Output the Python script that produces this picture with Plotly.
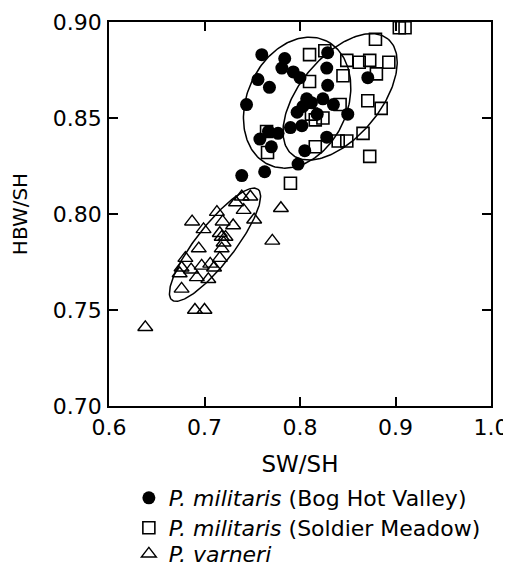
import numpy as np
import plotly.graph_objects as go

# --- data ---
bhv_x = [0.760, 0.784, 0.781, 0.793, 0.800, 0.756, 0.768, 0.744, 0.829, 0.828,
         0.829, 0.871, 0.807, 0.824, 0.803, 0.797, 0.835, 0.850, 0.790, 0.802,
         0.777, 0.767, 0.758, 0.770, 0.828, 0.805, 0.798, 0.763, 0.739, 0.812,
         0.818]
bhv_y = [0.883, 0.881, 0.876, 0.874, 0.871, 0.870, 0.866, 0.857, 0.884, 0.876,
         0.867, 0.871, 0.860, 0.860, 0.856, 0.853, 0.857, 0.852, 0.845, 0.846,
         0.842, 0.843, 0.839, 0.835, 0.840, 0.833, 0.826, 0.822, 0.820, 0.858,
         0.852]

sm_x = [0.910, 0.904, 0.879, 0.826, 0.810, 0.849, 0.862, 0.873, 0.893, 0.845,
        0.880, 0.810, 0.871, 0.885, 0.842, 0.812, 0.824, 0.840, 0.849, 0.866,
        0.873, 0.816, 0.790, 0.765, 0.766, 0.816]
sm_y = [0.897, 0.897, 0.891, 0.885, 0.883, 0.880, 0.879, 0.880, 0.879, 0.872,
        0.873, 0.869, 0.859, 0.855, 0.857, 0.852, 0.850, 0.838, 0.838, 0.842,
        0.830, 0.835, 0.816, 0.843, 0.832, 0.849]

pv_x = [0.739, 0.748, 0.733, 0.741, 0.713, 0.780, 0.687, 0.719, 0.730, 0.752,
        0.699, 0.718, 0.720, 0.716, 0.771, 0.694, 0.718, 0.680, 0.716, 0.676,
        0.686, 0.697, 0.710, 0.692, 0.704, 0.674, 0.676, 0.690, 0.700, 0.638,
        0.722, 0.706]
pv_y = [0.809, 0.809, 0.806, 0.802, 0.801, 0.803, 0.796, 0.796, 0.794, 0.797,
        0.792, 0.788, 0.785, 0.790, 0.786, 0.782, 0.782, 0.777, 0.777, 0.772,
        0.771, 0.773, 0.772, 0.767, 0.766, 0.769, 0.761, 0.750, 0.750, 0.741,
        0.788, 0.774]

names = ["<i>P. militaris</i> (Bog Hot Valley)",
         "<i>P. militaris</i> (Soldier Meadow)",
         "<i>P. varneri</i>"]

# ellipses: centre (x, y), semi-axes in fractions of the axis spans, angle (deg, on screen)
ell_cx = [0.797, 0.842, 0.711]
ell_cy = [0.858, 0.861, 0.784]
ell_a = [0.178, 0.196, 0.183]
ell_b = [0.131, 0.105, 0.050]
ell_ang = [65, 50, 52]

XR = [0.6, 1.0]
YR = [0.70, 0.90]

fig = go.Figure()

t = np.linspace(0, 2 * np.pi, 200)
for cx, cy, a, b, ang in zip(ell_cx, ell_cy, ell_a, ell_b, ell_ang):
    th = np.deg2rad(ang)
    u = a * np.cos(t) * np.cos(th) - b * np.sin(t) * np.sin(th)
    v = a * np.cos(t) * np.sin(th) + b * np.sin(t) * np.cos(th)
    fig.add_trace(go.Scatter(
        x=cx + u * (XR[1] - XR[0]), y=cy + v * (YR[1] - YR[0]),
        mode="lines", line=dict(color="black", width=1.5),
        showlegend=False, hoverinfo="skip"))

fig.add_trace(go.Scatter(
    x=bhv_x, y=bhv_y, mode="markers", name=names[0], cliponaxis=False,
    legend="legend",
    marker=dict(symbol="circle", size=13, color="black")))
fig.add_trace(go.Scatter(
    x=sm_x, y=sm_y, mode="markers", name=names[1], cliponaxis=False,
    legend="legend2",
    marker=dict(symbol="square-open", size=12, color="black",
                line=dict(width=1.6, color="black"))))
fig.add_trace(go.Scatter(
    x=pv_x, y=pv_y, mode="markers", name=names[2], cliponaxis=False,
    legend="legend3",
    marker=dict(symbol="triangle-up-open", size=13, color="black",
                line=dict(width=1.4, color="black"))))

axis_common = dict(
    showline=True, linecolor="black", linewidth=1.5, mirror="ticks",
    ticks="inside", ticklen=9, tickwidth=1.5, tickcolor="black",
    showgrid=False, zeroline=False,
    tickfont=dict(family="DejaVu Sans", size=22, color="black"),
)

leg_font = dict(family="DejaVu Sans", size=22, color="black")
leg_common = dict(x=0.052, xanchor="left", yanchor="middle", font=leg_font,
                  bgcolor="rgba(0,0,0,0)", itemwidth=30)

fig.update_layout(
    width=503, height=561,
    margin=dict(l=101, r=20, t=14, b=163, autoexpand=False),
    paper_bgcolor="white", plot_bgcolor="white",
    font=dict(family="DejaVu Sans", color="black"),
    xaxis=dict(range=XR, dtick=0.1, tick0=0.6, tickformat=".1f",
               ticklabelstandoff=1,
               title=dict(text="SW/SH", standoff=17,
                          font=dict(family="DejaVu Sans", size=23)),
               **axis_common),
    yaxis=dict(range=YR, dtick=0.05, tick0=0.70, tickformat=".2f",
               ticklabelstandoff=1,
               title=dict(text="HBW/SH", standoff=21,
                          font=dict(family="DejaVu Sans", size=20)),
               **axis_common),
    legend=dict(y=-0.2396, **leg_common),
    legend2=dict(y=-0.3177, **leg_common),
    legend3=dict(y=-0.3854, **leg_common),
)

fig.write_html("out.html")
